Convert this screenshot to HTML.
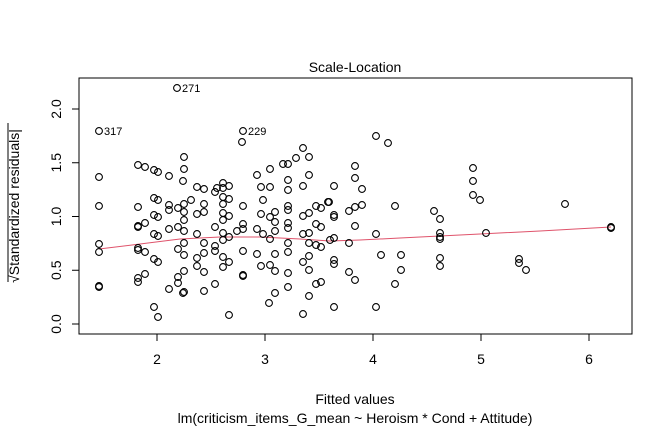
<!DOCTYPE html>
<html><head><meta charset="utf-8"><style>html,body{margin:0;padding:0;background:#fff}svg{display:block}</style></head>
<body>
<svg width="672" height="432" xmlns="http://www.w3.org/2000/svg" font-family="'Liberation Sans', Arial, sans-serif">
<rect width="672" height="432" fill="#fff"/>
<rect x="79" y="78" width="553" height="256" fill="none" stroke="#000" stroke-width="1"/>
<text x="355" y="72" font-size="14" text-anchor="middle">Scale-Location</text>
<g stroke="#000" stroke-width="1">
<line x1="157" y1="334" x2="157" y2="341"/><line x1="265" y1="334" x2="265" y2="341"/><line x1="373" y1="334" x2="373" y2="341"/><line x1="481" y1="334" x2="481" y2="341"/><line x1="589" y1="334" x2="589" y2="341"/>
<line x1="72" y1="324" x2="79" y2="324"/><line x1="72" y1="270.25" x2="79" y2="270.25"/><line x1="72" y1="216.5" x2="79" y2="216.5"/><line x1="72" y1="162.75" x2="79" y2="162.75"/><line x1="72" y1="109" x2="79" y2="109"/>
<line x1="8" y1="123" x2="8" y2="282"/>
</g>
<g font-size="14" text-anchor="middle">
<text x="157" y="364">2</text><text x="265" y="364">3</text><text x="373" y="364">4</text><text x="481" y="364">5</text><text x="589" y="364">6</text>
<text transform="translate(61,324) rotate(-90)">0.0</text>
<text transform="translate(61,270.25) rotate(-90)">0.5</text>
<text transform="translate(61,216.5) rotate(-90)">1.0</text>
<text transform="translate(61,162.75) rotate(-90)">1.5</text>
<text transform="translate(61,109) rotate(-90)">2.0</text>
<text x="355" y="404">Fitted values</text>
<text x="355" y="423">lm(criticism_items_G_mean ~ Heroism * Cond + Attitude)</text>
<text transform="translate(19,206) rotate(-90)">√Standardized residuals|</text>
</g>
<polyline points="99,249 140,244 180,239 220,237 260,237 300,239 330,241 360,240 400,238 440,236 480,234 540,231 611,227" fill="none" stroke="#DF536B" stroke-width="1"/>
<g font-size="11">
<text x="104" y="135">317</text><text x="182" y="92">271</text><text x="248" y="135">229</text>
</g>
<g fill="none" stroke="#000" stroke-width="1.1">
<circle cx="99" cy="131" r="3.4"/><circle cx="99" cy="177" r="3.4"/><circle cx="99" cy="206" r="3.4"/><circle cx="99" cy="244" r="3.4"/><circle cx="99" cy="252" r="3.4"/><circle cx="99" cy="286" r="3.4"/><circle cx="99" cy="287" r="3.4"/>
<circle cx="138" cy="165" r="3.4"/><circle cx="145" cy="167" r="3.4"/><circle cx="138" cy="207" r="3.4"/><circle cx="138" cy="226" r="3.4"/><circle cx="138" cy="227" r="3.4"/><circle cx="138" cy="248" r="3.4"/><circle cx="138" cy="250" r="3.4"/><circle cx="138" cy="278" r="3.4"/><circle cx="138" cy="282" r="3.4"/><circle cx="145" cy="223" r="3.4"/><circle cx="145" cy="252" r="3.4"/><circle cx="145" cy="274" r="3.4"/>
<circle cx="154" cy="170" r="3.4"/><circle cx="158" cy="172" r="3.4"/><circle cx="154" cy="198" r="3.4"/><circle cx="158" cy="200" r="3.4"/><circle cx="154" cy="215" r="3.4"/><circle cx="158" cy="217" r="3.4"/><circle cx="154" cy="234" r="3.4"/><circle cx="158" cy="236" r="3.4"/><circle cx="154" cy="259" r="3.4"/><circle cx="158" cy="262" r="3.4"/><circle cx="154" cy="307" r="3.4"/><circle cx="158" cy="317" r="3.4"/>
<circle cx="169" cy="176" r="3.4"/><circle cx="169" cy="205" r="3.4"/><circle cx="169" cy="210" r="3.4"/><circle cx="169" cy="229" r="3.4"/><circle cx="169" cy="289" r="3.4"/><circle cx="178" cy="208" r="3.4"/><circle cx="178" cy="227" r="3.4"/><circle cx="178" cy="249" r="3.4"/><circle cx="178" cy="277" r="3.4"/><circle cx="178" cy="283" r="3.4"/><circle cx="177" cy="88" r="3.4"/>
<circle cx="184" cy="157" r="3.4"/><circle cx="184" cy="169" r="3.4"/><circle cx="183" cy="181" r="3.4"/><circle cx="184" cy="204" r="3.4"/><circle cx="184" cy="212" r="3.4"/><circle cx="184" cy="220" r="3.4"/><circle cx="184" cy="231" r="3.4"/><circle cx="184" cy="243" r="3.4"/><circle cx="184" cy="255" r="3.4"/><circle cx="184" cy="271" r="3.4"/><circle cx="184" cy="292" r="3.4"/><circle cx="183" cy="293" r="3.4"/><circle cx="191" cy="200" r="3.4"/>
<circle cx="197" cy="187" r="3.4"/><circle cx="204" cy="189" r="3.4"/><circle cx="204" cy="204" r="3.4"/><circle cx="197" cy="214" r="3.4"/><circle cx="204" cy="212" r="3.4"/><circle cx="197" cy="234" r="3.4"/><circle cx="204" cy="243" r="3.4"/><circle cx="197" cy="258" r="3.4"/><circle cx="204" cy="253" r="3.4"/><circle cx="197" cy="266" r="3.4"/><circle cx="204" cy="272" r="3.4"/><circle cx="204" cy="291" r="3.4"/>
<circle cx="215" cy="284" r="3.4"/><circle cx="215" cy="227" r="3.4"/><circle cx="215" cy="246" r="3.4"/><circle cx="215" cy="251" r="3.4"/><circle cx="215" cy="192" r="3.4"/><circle cx="217" cy="188" r="3.4"/><circle cx="223" cy="183" r="3.4"/><circle cx="223" cy="188" r="3.4"/><circle cx="229" cy="186" r="3.4"/><circle cx="223" cy="197" r="3.4"/><circle cx="229" cy="199" r="3.4"/><circle cx="223" cy="204" r="3.4"/><circle cx="223" cy="213" r="3.4"/><circle cx="229" cy="216" r="3.4"/><circle cx="223" cy="220" r="3.4"/><circle cx="223" cy="233" r="3.4"/><circle cx="223" cy="240" r="3.4"/><circle cx="229" cy="237" r="3.4"/><circle cx="237" cy="231" r="3.4"/><circle cx="223" cy="257" r="3.4"/><circle cx="229" cy="262" r="3.4"/><circle cx="223" cy="267" r="3.4"/><circle cx="229" cy="315" r="3.4"/>
<circle cx="243" cy="131" r="3.4"/><circle cx="242" cy="142" r="3.4"/><circle cx="243" cy="206" r="3.4"/><circle cx="243" cy="224" r="3.4"/><circle cx="243" cy="229" r="3.4"/><circle cx="243" cy="251" r="3.4"/><circle cx="243" cy="275" r="3.4"/><circle cx="243" cy="276" r="3.4"/>
<circle cx="257" cy="175" r="3.4"/><circle cx="261" cy="187" r="3.4"/><circle cx="263" cy="200" r="3.4"/><circle cx="261" cy="214" r="3.4"/><circle cx="257" cy="229" r="3.4"/><circle cx="263" cy="234" r="3.4"/><circle cx="257" cy="254" r="3.4"/><circle cx="261" cy="266" r="3.4"/>
<circle cx="270" cy="169" r="3.4"/><circle cx="270" cy="187" r="3.4"/><circle cx="270" cy="217" r="3.4"/><circle cx="275" cy="212" r="3.4"/><circle cx="275" cy="222" r="3.4"/><circle cx="275" cy="231" r="3.4"/><circle cx="270" cy="239" r="3.4"/><circle cx="275" cy="254" r="3.4"/><circle cx="270" cy="265" r="3.4"/><circle cx="275" cy="271" r="3.4"/><circle cx="275" cy="293" r="3.4"/><circle cx="269" cy="303" r="3.4"/>
<circle cx="283" cy="164" r="3.4"/><circle cx="288" cy="164" r="3.4"/><circle cx="296" cy="158" r="3.4"/><circle cx="303" cy="148" r="3.4"/><circle cx="309" cy="157" r="3.4"/><circle cx="309" cy="175" r="3.4"/><circle cx="288" cy="180" r="3.4"/><circle cx="288" cy="190" r="3.4"/><circle cx="303" cy="186" r="3.4"/><circle cx="288" cy="206" r="3.4"/><circle cx="288" cy="210" r="3.4"/><circle cx="288" cy="223" r="3.4"/><circle cx="288" cy="228" r="3.4"/><circle cx="303" cy="216" r="3.4"/><circle cx="309" cy="213" r="3.4"/><circle cx="316" cy="206" r="3.4"/><circle cx="321" cy="208" r="3.4"/><circle cx="328" cy="202" r="3.4"/><circle cx="316" cy="224" r="3.4"/><circle cx="321" cy="227" r="3.4"/><circle cx="303" cy="234" r="3.4"/><circle cx="309" cy="233" r="3.4"/><circle cx="288" cy="243" r="3.4"/><circle cx="288" cy="252" r="3.4"/><circle cx="309" cy="243" r="3.4"/><circle cx="316" cy="245" r="3.4"/><circle cx="321" cy="247" r="3.4"/><circle cx="309" cy="256" r="3.4"/><circle cx="303" cy="262" r="3.4"/><circle cx="309" cy="270" r="3.4"/><circle cx="288" cy="273" r="3.4"/><circle cx="288" cy="287" r="3.4"/><circle cx="316" cy="284" r="3.4"/><circle cx="321" cy="282" r="3.4"/><circle cx="309" cy="296" r="3.4"/><circle cx="303" cy="314" r="3.4"/>
<circle cx="376" cy="136" r="3.4"/><circle cx="388" cy="143" r="3.4"/><circle cx="355" cy="166" r="3.4"/><circle cx="355" cy="178" r="3.4"/><circle cx="362" cy="189" r="3.4"/><circle cx="334" cy="186" r="3.4"/><circle cx="329" cy="202" r="3.4"/><circle cx="334" cy="215" r="3.4"/><circle cx="334" cy="217" r="3.4"/><circle cx="349" cy="211" r="3.4"/><circle cx="355" cy="207" r="3.4"/><circle cx="362" cy="205" r="3.4"/><circle cx="355" cy="226" r="3.4"/><circle cx="395" cy="206" r="3.4"/><circle cx="434" cy="211" r="3.4"/><circle cx="440" cy="219" r="3.4"/><circle cx="376" cy="234" r="3.4"/><circle cx="330" cy="240" r="3.4"/><circle cx="334" cy="238" r="3.4"/><circle cx="349" cy="243" r="3.4"/><circle cx="440" cy="233" r="3.4"/><circle cx="440" cy="237" r="3.4"/><circle cx="440" cy="239" r="3.4"/><circle cx="381" cy="255" r="3.4"/><circle cx="401" cy="255" r="3.4"/><circle cx="334" cy="260" r="3.4"/><circle cx="334" cy="264" r="3.4"/><circle cx="440" cy="258" r="3.4"/><circle cx="440" cy="266" r="3.4"/><circle cx="401" cy="270" r="3.4"/><circle cx="349" cy="272" r="3.4"/><circle cx="355" cy="280" r="3.4"/><circle cx="395" cy="284" r="3.4"/><circle cx="334" cy="307" r="3.4"/><circle cx="376" cy="307" r="3.4"/>
<circle cx="473" cy="168" r="3.4"/><circle cx="473" cy="181" r="3.4"/><circle cx="473" cy="195" r="3.4"/><circle cx="480" cy="200" r="3.4"/><circle cx="565" cy="204" r="3.4"/><circle cx="486" cy="233" r="3.4"/><circle cx="611" cy="227" r="3.4"/><circle cx="611" cy="228" r="3.4"/><circle cx="519" cy="259" r="3.4"/><circle cx="519" cy="263" r="3.4"/><circle cx="526" cy="270" r="3.4"/>
</g>
</svg>
</body></html>
